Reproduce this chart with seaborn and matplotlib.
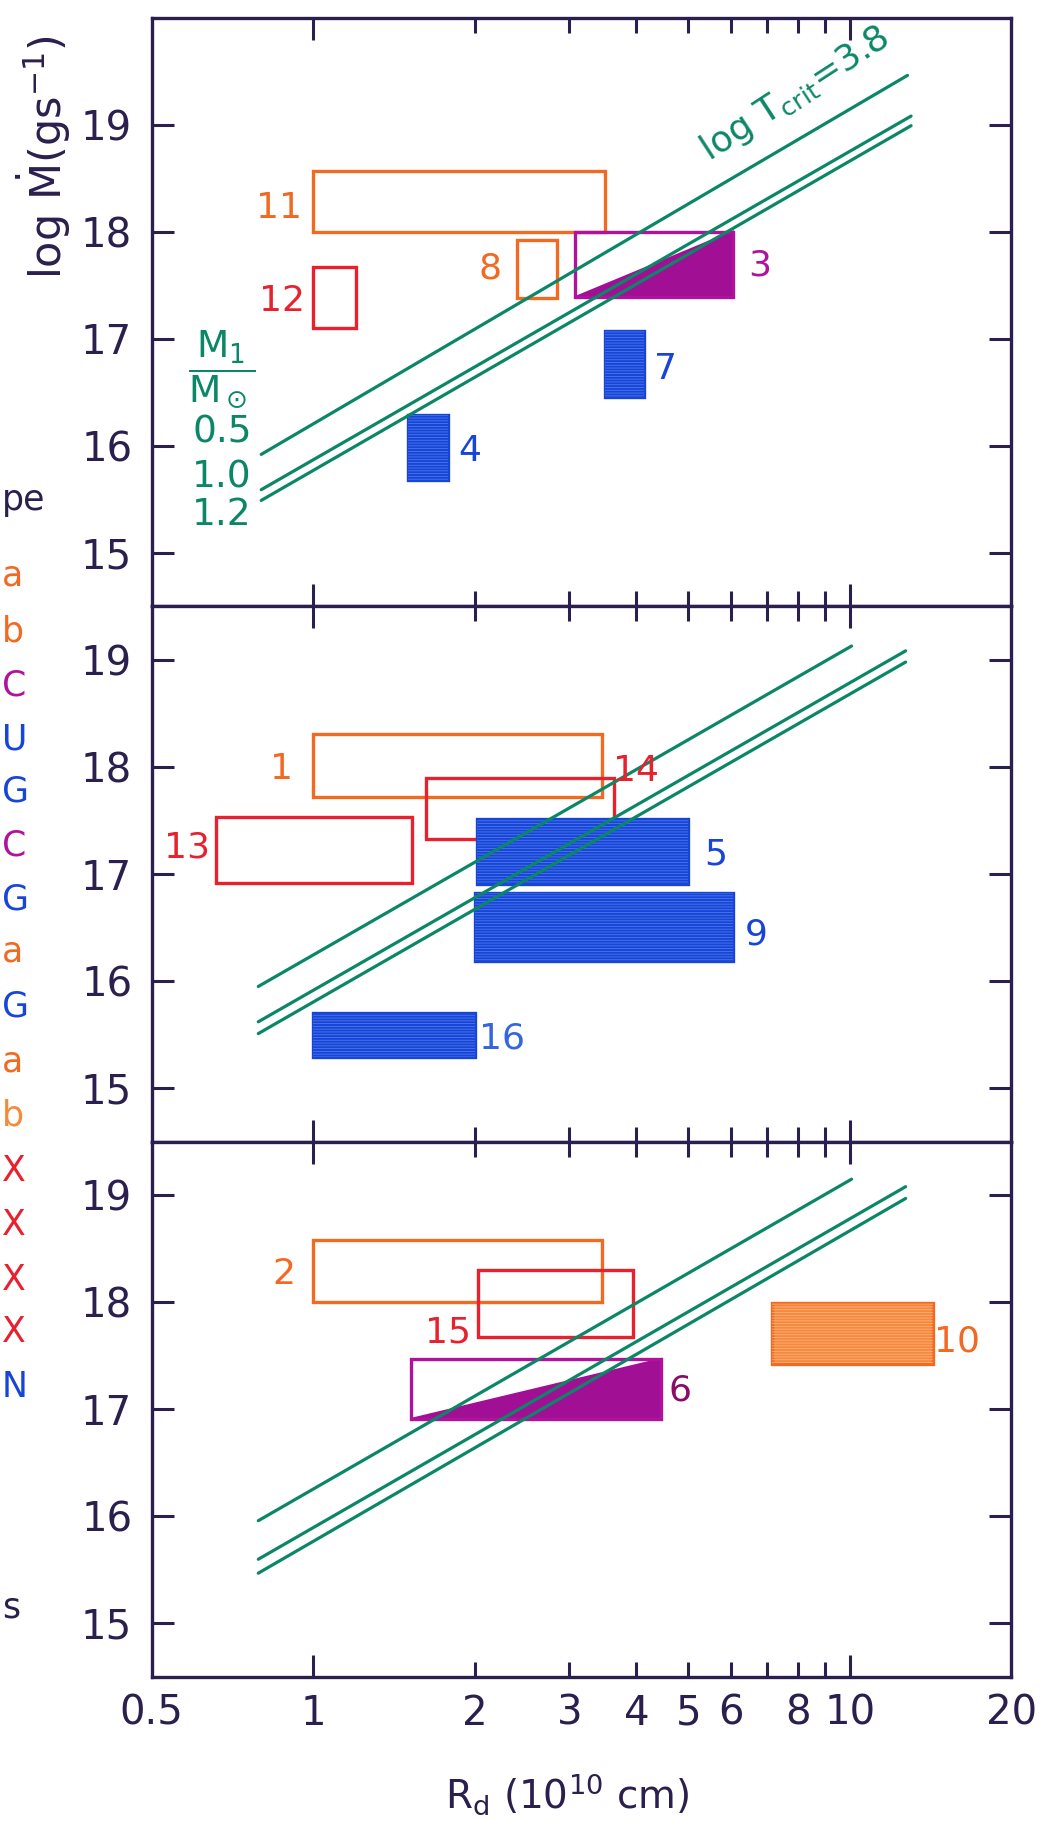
import numpy as np
import pandas as pd
import matplotlib
matplotlib.use("Agg")
import matplotlib.pyplot as plt
import seaborn as sns
from matplotlib.patches import Rectangle, Polygon

# ---------------- data ----------------
box_id    = [11, 12, 8, 3, 7, 4, 1, 13, 14, 5, 9, 16, 2, 15, 6, 10]
box_panel = [0, 0, 0, 0, 0, 0, 1, 1, 1, 1, 1, 1, 2, 2, 2, 2]
box_rmin  = [1.0, 1.0, 2.4, 3.08, 3.5, 1.5, 1.0, 0.66, 1.62, 2.02, 2.0, 1.0, 1.0, 2.03, 1.52, 7.17]
box_rmax  = [3.5, 1.2, 2.85, 6.05, 4.13, 1.78, 3.45, 1.53, 3.64, 5.0, 6.05, 2.0, 3.45, 3.95, 4.45, 14.3]
box_mlo   = [18.0, 17.1, 17.38, 17.39, 16.46, 15.68, 17.72, 16.92, 17.33, 16.91, 16.19, 15.29, 18.0, 17.68, 16.91, 17.42]
box_mhi   = [18.57, 17.67, 17.92, 18.0, 17.07, 16.29, 18.31, 17.53, 17.9, 17.51, 16.82, 15.7, 18.58, 18.3, 17.47, 17.99]
box_class = ["orange", "red", "orange", "magenta", "blue", "blue", "orange", "red", "red",
             "blue", "blue", "blue", "orange", "red", "magenta", "orange"]
box_fill  = ["open", "open", "open", "half", "full", "full", "open", "open", "open",
             "full", "full", "full", "open", "open", "half", "full"]
lab_r     = [0.863, 0.876, 2.14, 6.8, 4.54, 1.96, 0.874, 0.583, 3.99, 5.63, 6.68, 2.25, 0.88, 1.78, 4.82, 15.85]
lab_m     = [18.22, 17.35, 17.66, 17.68, 16.72, 15.95, 17.98, 17.25, 17.96, 17.18, 16.44, 15.46, 18.26, 17.72, 17.18, 17.63]

line_mass    = ["0.5", "1.0", "1.2"]
line_r_start = [[0.80, 0.80, 0.80], [0.79, 0.79, 0.79], [0.79, 0.79, 0.79]]
line_m_start = [[15.92, 15.59, 15.49], [15.95, 15.62, 15.51], [15.96, 15.60, 15.47]]
line_r_end   = [[12.8, 13.0, 13.0], [10.07, 12.7, 12.7], [10.07, 12.7, 12.7]]
line_m_end   = [[19.46, 19.08, 18.99], [19.13, 19.085, 18.98], [19.15, 19.08, 18.97]]

y_ticks = [15, 16, 17, 18, 19]
x_major = [0.5, 1, 10, 20]
x_major_labels = ["0.5", "1", "10", "20"]
x_minor = [2, 3, 4, 5, 6, 7, 8, 9]
x_minor_labels = ["2", "3", "4", "5", "6", "", "8", ""]
panel_ylim = [(14.5, 20.0), (14.5, 19.5), (14.5, 19.5)]

# ---------------- styles ----------------
dark = "#2b1f4e"
green = "#0b8767"
col = {"orange": "#f26a22", "red": "#e8212f", "magenta": "#b0129e", "blue": "#1745d8"}
fill_col = {"orange": "#f7893e", "magenta": "#a10f95", "blue": "#1745d8"}
hatch_col = {"orange": "#fbb07a", "magenta": "#c94abb", "blue": "#4f78ea"}
lab_col = {6: "#8c0b6a", 16: "#3565e0"}

sns.set_theme(style="white")
plt.rcParams["font.family"] = ["DejaVu Sans"]
plt.rcParams["mathtext.fontset"] = "dejavusans"
plt.rcParams["hatch.linewidth"] = 0.6

fig = plt.figure(figsize=(10.46, 18.32), dpi=100)
gs = fig.add_gridspec(3, 1, height_ratios=[5.5, 5, 5], hspace=0,
                      left=0.145, right=0.967, top=0.9904, bottom=0.0846)
axes = [fig.add_subplot(gs[i]) for i in range(3)]

# line data frame
rows = []
for p in range(3):
    for k, m in enumerate(line_mass):
        rows.append(dict(panel=p, mass=m, R=line_r_start[p][k], Mdot=line_m_start[p][k]))
        rows.append(dict(panel=p, mass=m, R=line_r_end[p][k], Mdot=line_m_end[p][k]))
lines_df = pd.DataFrame(rows)

for p, ax in enumerate(axes):
    ax.set_xscale("log")
    ax.set_xlim(0.5, 20)
    ax.set_ylim(*panel_ylim[p])
    ax.set_facecolor("white")

    # boxes
    for i in range(len(box_id)):
        if box_panel[i] != p:
            continue
        x0, x1, y0, y1 = box_rmin[i], box_rmax[i], box_mlo[i], box_mhi[i]
        c = col[box_class[i]]
        kind = box_fill[i]
        if kind == "open":
            ax.add_patch(Rectangle((x0, y0), x1 - x0, y1 - y0, facecolor="none",
                                   edgecolor=c, lw=2.4, zorder=2))
        elif kind == "full":
            fc = fill_col[box_class[i]]
            ax.add_patch(Rectangle((x0, y0), x1 - x0, y1 - y0, facecolor=fc,
                                   edgecolor=c, lw=2.4, zorder=2))
            ax.add_patch(Rectangle((x0, y0), x1 - x0, y1 - y0, facecolor="none",
                                   edgecolor=hatch_col[box_class[i]], lw=0,
                                   hatch="------", zorder=2.1))
        else:  # half: lower-right triangle filled
            fc = fill_col[box_class[i]]
            ax.add_patch(Polygon([(x0, y0), (x1, y1), (x1, y0)], closed=True,
                                 facecolor=fc, edgecolor=fc, lw=1.5, zorder=2))
            ax.add_patch(Rectangle((x0, y0), x1 - x0, y1 - y0, facecolor="none",
                                   edgecolor=c, lw=2.4, zorder=2.2))
        lc = lab_col.get(box_id[i], c)
        ax.text(lab_r[i], lab_m[i], str(box_id[i]), color=lc, fontsize=26,
                ha="center", va="center", zorder=4)

    # critical lines
    sns.lineplot(data=lines_df[lines_df.panel == p], x="R", y="Mdot", hue="mass",
                 units="mass", estimator=None, sort=False,
                 palette=[green] * 3, legend=False, lw=2.3, ax=ax, zorder=3)
    ax.set_xlabel("")
    ax.set_ylabel("")

    # ticks
    ax.set_yticks(y_ticks)
    ax.set_yticklabels([str(t) for t in y_ticks])
    ax.tick_params(axis="y", which="major", direction="in", length=16, width=2.2,
                   left=True, right=True, labelleft=True, labelright=False,
                   labelsize=29, pad=14, colors=dark)
    ax.set_xticks(x_major, labels=x_major_labels)
    ax.set_xticks(x_minor, labels=x_minor_labels, minor=True)
    ax.tick_params(axis="x", which="major", direction="in", length=16, width=2.2,
                   top=True, bottom=True, labelsize=29, pad=12, colors=dark)
    ax.tick_params(axis="x", which="minor", direction="in", length=11, width=2.2,
                   top=True, bottom=True, labelsize=29, pad=12, colors=dark)
    for t, loc in zip(ax.xaxis.get_major_ticks(), x_major):
        if loc in (0.5, 20):
            t.tick1line.set_visible(False)
            t.tick2line.set_visible(False)
    if p < 2:
        ax.tick_params(axis="x", which="both", labelbottom=False)
    for s in ax.spines.values():
        s.set_color(dark)
        s.set_linewidth(2.4)
        s.set_visible(True)

# annotations in top panel
ax0 = axes[0]
ax0.text(7.9, 19.29, r"log T$_{\rm crit}$=3.8", rotation=33, rotation_mode="anchor",
         ha="center", va="center", color=green, fontsize=26, zorder=4)
ax0.text(0.676, 16.72, r"$\dfrac{\mathrm{M}_1}{\mathrm{M}_\odot}$", color=green,
         fontsize=27, ha="center", va="center")
for lab, yy in zip(line_mass, [16.12, 15.70, 15.35]):
    ax0.text(0.676, yy, lab, color=green, fontsize=27, ha="center", va="center")

# axis titles
fig.text(44 / 1046, 1 - 157 / 1832, r"log $\dot{\rm M}$(gs$^{-1}$)", rotation=90,
         ha="center", va="center", fontsize=31, color=dark)
fig.text(567 / 1046, 1 - 1794 / 1832, r"R$_{\rm d}$ (10$^{10}$ cm)",
         ha="center", va="center", fontsize=28, color=dark)

# legend letters at the left edge (remnant of a key)
strip = [("pe", 500, dark), ("a", 575, col["orange"]), ("b", 631, col["orange"]),
         ("C", 686, col["magenta"]), ("U", 739, col["blue"]), ("G", 792, col["blue"]),
         ("C", 846, col["magenta"]), ("G", 900, col["blue"]), ("a", 952, col["orange"]),
         ("G", 1007, col["blue"]), ("a", 1061, col["orange"]), ("b", 1116, "#f58a3a"),
         ("X", 1171, col["red"]), ("X", 1225, col["red"]), ("X", 1280, col["red"]),
         ("X", 1332, col["red"]), ("N", 1387, col["blue"]), ("s", 1607, dark)]
for txt, yy, c in strip:
    fig.text(2 / 1046, 1 - yy / 1832, txt, ha="left", va="center", fontsize=25, color=c)

fig.savefig("out.png", dpi=100, facecolor="white")
